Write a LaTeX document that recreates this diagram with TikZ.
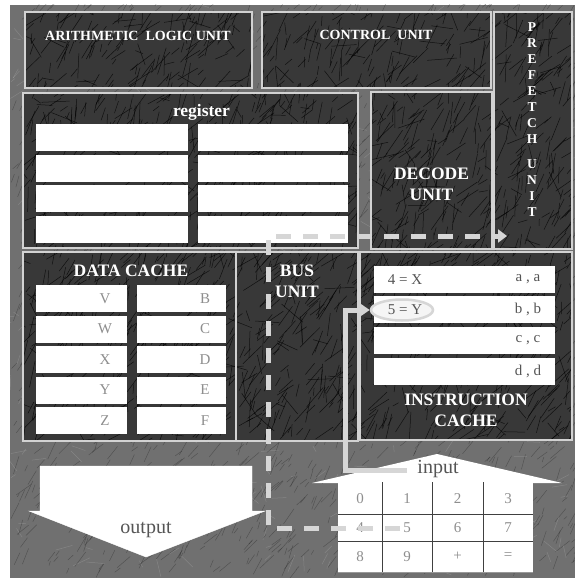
\documentclass[tikz,border=0pt]{standalone}
\usepackage{fontspec}
\setmainfont{Liberation Serif}
\usetikzlibrary{arrows.meta,shapes.geometric}
\definecolor{bggray}{HTML}{707070}
\definecolor{boxdark}{HTML}{383838}
\definecolor{boxedge}{HTML}{D2D2D2}
\definecolor{linegray}{HTML}{D6D6D6}
\definecolor{txtgray}{HTML}{8E8E8E}
\definecolor{txtdark}{HTML}{555555}
\tikzset{
  unitbox/.style={draw=boxedge, line width=1.5pt, fill=boxdark, inner sep=0pt, outer sep=0pt},
  rowbox/.style={fill=white, inner sep=0pt, outer sep=0pt},
  bigtitle/.style={text=white, font=\fontsize{17.5}{21}\selectfont\bfseries, align=center, inner sep=0pt},
  smalltitle/.style={text=white, font=\fontsize{14}{16}\selectfont\bfseries, inner sep=0pt},
  rowtxt/.style={text=txtdark, font=\fontsize{15}{17}\selectfont, inner sep=0pt},
  celltxt/.style={text=txtgray, font=\fontsize{15}{17}\selectfont, inner sep=0pt},
  keytxt/.style={text=txtgray, font=\fontsize{15}{17}\selectfont, inner sep=0pt},
  arrowtxt/.style={text=txtdark, font=\fontsize{20}{22}\selectfont, inner sep=0pt},
  busdash/.style={draw=linegray, line width=5pt, dash pattern=on 15pt off 12pt},
  feedline/.style={draw=linegray, line width=5pt},
  scratchbg/.style={draw=black, opacity=0.28, line width=0.45pt},
  scratchlt/.style={draw=white, opacity=0.15, line width=0.5pt},
  scratchbox/.style={draw=black, opacity=0.7, line width=0.5pt},
  keyline/.style={draw=black!75, line width=0.8pt}
}
\begin{document}
\begin{tikzpicture}[x=1pt,y=-1pt]
\useasboundingbox (0,0) rectangle (575,578);
\fill[bggray] (10,5) rectangle (575,578);
% background texture
\pgfmathsetseed{4242}
\begin{scope}
\clip (10,5) rectangle (575,578);
\foreach \i in {1,...,1700}{
  \pgfmathsetmacro\px{10+565*rnd}
  \pgfmathsetmacro\py{5+573*rnd}
  \pgfmathsetmacro\pl{4+16*rnd}
  \pgfmathsetmacro\pa{-35-40*rnd}
  \draw[scratchbg] (\px,\py) -- ++(\pa:\pl);
}
\foreach \i in {1,...,400}{
  \pgfmathsetmacro\px{10+565*rnd}
  \pgfmathsetmacro\py{5+573*rnd}
  \pgfmathsetmacro\pl{5+14*rnd}
  \pgfmathsetmacro\pa{-180*rnd}
  \draw[scratchlt] (\px,\py) -- ++(\pa:\pl);
}
\end{scope}
% unit boxes
\node[unitbox, minimum width=227pt, minimum height=76pt] (alu) at (138.5,50) {};
\node[unitbox, minimum width=229pt, minimum height=76pt] (ctrl) at (376.5,50) {};
\node[unitbox, minimum width=78pt, minimum height=237pt] (prefetch) at (533,130.5) {};
\node[unitbox, minimum width=335pt, minimum height=155pt] (reg) at (190.5,170.5) {};
\node[unitbox, minimum width=121pt, minimum height=157pt] (decode) at (431.5,170.5) {};
\node[unitbox, minimum width=213pt, minimum height=189pt] (dcache) at (129.5,346.5) {};
\node[unitbox, minimum width=122pt, minimum height=189pt] (bus) at (297,346.5) {};
\node[unitbox, minimum width=212pt, minimum height=188pt] (icache) at (466,346) {};
% texture inside boxes
\begin{scope}
\clip (25,12) rectangle (252,88) (262,12) rectangle (491,88) (494,12) rectangle (572,249)
      (23,93) rectangle (358,248) (371,92) rectangle (492,249) (23,252) rectangle (358,441)
      (360,252) rectangle (572,440);
\foreach \i in {1,...,1600}{
  \pgfmathsetmacro\px{20+555*rnd}
  \pgfmathsetmacro\py{10+435*rnd}
  \pgfmathsetmacro\pl{6+22*rnd}
  \pgfmathsetmacro\pa{-30-60*rnd}
  \draw[scratchbox] (\px,\py) -- ++(\pa:\pl);
}
\foreach \i in {1,...,400}{
  \pgfmathsetmacro\px{20+555*rnd}
  \pgfmathsetmacro\py{10+435*rnd}
  \pgfmathsetmacro\pl{8+22*rnd}
  \pgfmathsetmacro\pa{-180*rnd}
  \draw[scratchbox] (\px,\py) -- ++(\pa:\pl);
}
\end{scope}
% redraw box edges over texture
\foreach \b in {alu,ctrl,prefetch,reg,decode,dcache,bus,icache}{
  \draw[boxedge, line width=1.5pt] (\b.north west) rectangle (\b.south east);
}
% titles
\node[smalltitle] (alut) at (138,36) {ARITHMETIC\ \ LOGIC UNIT};
\node[smalltitle] (ctrlt) at (376,35) {CONTROL\ \ UNIT};
\node[bigtitle, font=\fontsize{17.5}{21}\selectfont\bfseries] (regt) at (201.5,112) {register};
\node[bigtitle] (decodet) at (431.5,184.5) {DECODE\\UNIT};
\node[smalltitle, align=center, font=\fontsize{13.5}{16}\selectfont\bfseries] (prefetcht) at (532,120)
  {P\\R\\E\\F\\E\\T\\C\\H\\[9pt]U\\N\\I\\T};
\node[bigtitle] (dcachet) at (131,271) {DATA CACHE};
\node[bigtitle] (bust) at (297,281) {BUS\\UNIT};
\node[bigtitle] (icachet) at (466,410) {INSTRUCTION\\CACHE};
% register rows
\foreach \n/\y in {1/137.5,2/168,3/198.5,4/229}{
  \node[rowbox, minimum width=152pt, minimum height=27pt] (rl\n) at (112,\y) {};
  \node[rowbox, minimum width=150pt, minimum height=27pt] (rr\n) at (273,\y) {};
}
% data cache rows
\foreach \n/\y/\a/\b in {1/298.5/V/B,2/329/W/C,3/359.5/X/D,4/390/Y/E,5/420.5/Z/F}{
  \node[rowbox, minimum width=91pt, minimum height=27pt] (dl\n) at (81.5,\y) {};
  \node[rowbox, minimum width=89pt, minimum height=27pt] (dr\n) at (181.5,\y) {};
  \node[celltxt] (dlt\n) at (105,\y) {\a};
  \node[celltxt] (drt\n) at (205,\y) {\b};
}
% instruction cache rows
\foreach \n/\y/\c in {1/279.5/{a , a},2/309/{b , b},3/340/{c , c},4/371/{d , d}}{
  \node[rowbox, minimum width=181pt, minimum height=27pt] (ir\n) at (464.5,\y) {};
  \node[rowtxt] (irt\n) at (528,\y) {\c};
}
\node[rowtxt] (ins1) at (405,279.5) {4 = X};
\node[ellipse, draw=linegray, line width=2.5pt, fill=black!4, minimum width=62pt, minimum height=21pt, inner sep=0pt] (sel) at (402,310) {};
\node[rowtxt] (ins2) at (405,309.5) {5 = Y};
% output arrow
\draw[white, fill=white] (40,466) -- (252,466) -- (252,511) -- (265,511) -- (146,557) -- (29,511) -- (40,511) -- cycle;
\node[arrowtxt] (outputt) at (146,530) {output};
% input roof and keypad
\fill[white] (312,483) -- (437,454) -- (562,483) -- cycle;
\node[arrowtxt] (inputt) at (438,469) {input};
\fill[white] (338,483) rectangle (533,572);
\draw[keyline] (338,514) -- (533,514) (338,541) -- (533,541);
\draw[keyline] (382,482) -- (382,572) (432,482) -- (432,572) (483,482) -- (483,572);
\draw[keyline, black!40] (338,572) -- (533,572);
\foreach \k/\x/\y in {0/360/498.5,1/407/498.5,2/457.5/498.5,3/508/498.5,
                      4/360/527.5,5/407/527.5,6/457.5/527.5,7/508/527.5,
                      8/360/556.5,9/407/556.5,plus/457.5/556.5,eq/508/556.5}{
  \coordinate (kc\k) at (\x,\y);
}
\foreach \k in {0,...,9}{ \node[keytxt] (k\k) at (kc\k) {\k}; }
\node[keytxt] (kplus) at (kcplus) {+};
\node[keytxt] (keq) at (kceq) {=};
% connectors
\coordinate (dstart) at (400,528);
\coordinate (dc1) at (268,528);
\coordinate (dc2) at (268,236);
\coordinate (dend) at (507,236);
\draw[busdash, -{Triangle[length=9pt,width=13pt]}] (dstart) -- (dc1) -- (dc2) -- (dend);
\coordinate (fbend) at (345,310);
\draw[feedline, -{Triangle[length=10pt,width=13pt]}] (inputt.west) ++(-10,1) -| (fbend) -- (sel.west);
\end{tikzpicture}
\end{document}
